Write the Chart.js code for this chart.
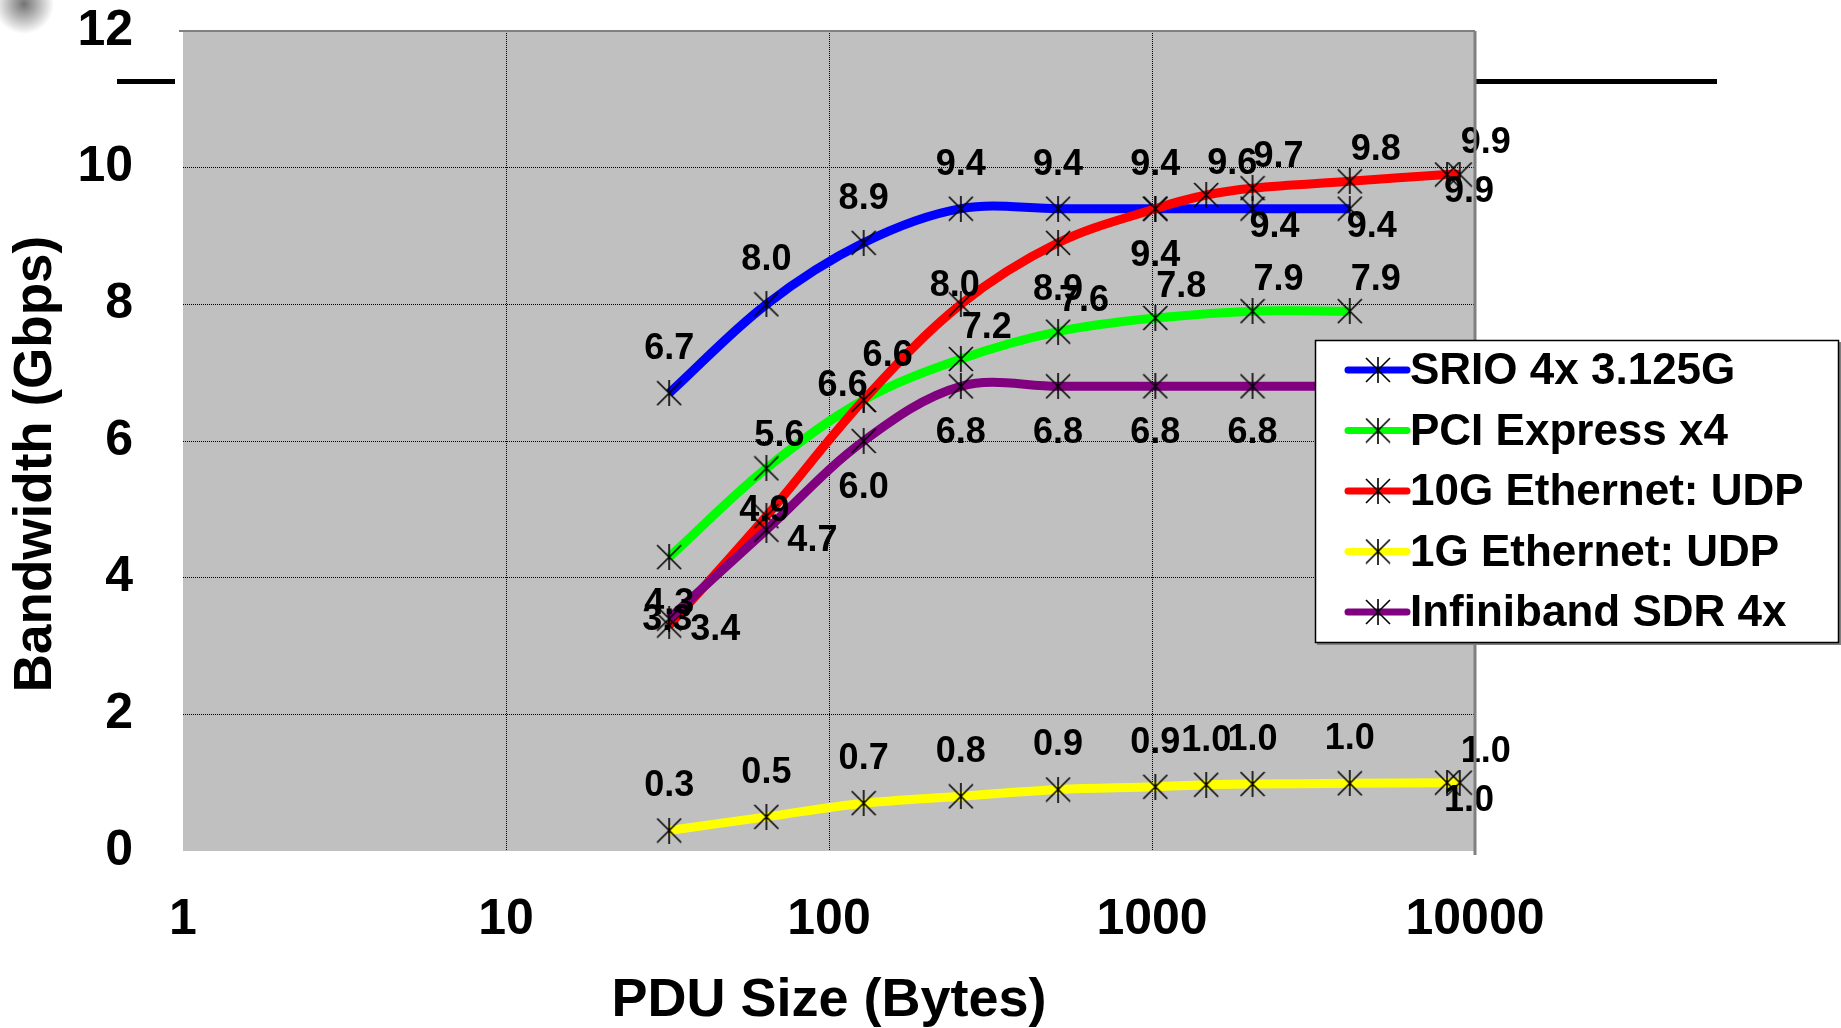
<!DOCTYPE html>
<html>
<head>
<meta charset="utf-8">
<title>Bandwidth vs PDU Size</title>
<script src="https://cdn.jsdelivr.net/npm/chart.js@4.4.0/dist/chart.umd.min.js"></script>
<style>
  html, body { margin: 0; padding: 0; background: #fff; }
  #wrap { width: 1841px; height: 1028px; }
</style>
</head>
<body>
<div id="wrap"><canvas id="canvas" width="1841" height="1028"></canvas></div>
<script>
// PDU sizes (bytes) shared by all series; null = not measured
const pduSizes = [32, 64, 128, 256, 512, 1024, 1472, 2048, 4096, 8192, 8972];
const seriesNames = ["SRIO 4x 3.125G", "PCI Express x4", "10G Ethernet: UDP", "1G Ethernet: UDP", "Infiniband SDR 4x"];
const srio       = [6.7, 8.0, 8.9, 9.4, 9.4, 9.4, null, 9.4, 9.4, null, null];
const pcie       = [4.3, 5.6, 6.6, 7.2, 7.6, 7.8, null, 7.9, 7.9, null, null];
const tenGig     = [3.3, 4.9, 6.6, 8.0, 8.9, 9.4, 9.6, 9.7, 9.8, 9.9, 9.9];
const oneGig     = [0.3, 0.5, 0.7, 0.8, 0.9, 0.94, 0.97, 0.98, 0.99, 1.0, 1.0];
const infiniband = [3.4, 4.7, 6.0, 6.8, 6.8, 6.8, null, 6.8, 6.8, null, null];
const xTicks = [1, 10, 100, 1000, 10000];
const yTicks = [0, 2, 4, 6, 8, 10, 12];

const seriesColors = ["#0000ff", "#00ff00", "#ff0000", "#ffff00", "#800080"];

// where each value label sits relative to its point (Excel placed them by hand)
const labelSpots = [
  ['T', 'T', 'T', 'T', 'T', 'T', null, 'BR', 'BR', null, null],
  ['B', 'Tr', 'TL', 'TR', 'TR', 'TR', null, 'TR', 'TR', null, null],
  ['C', 'C', 'TRh', 'CT', 'B', 'B', 'TR', 'TR', 'TR', 'BR', 'TR'],
  ['T', 'T', 'T', 'T', 'T', 'T', 'T', 'T', 'T', 'BR', 'TR'],
  ['R', 'R', 'B', 'B', 'B', 'B', null, 'B', 'B', null, null]
];
const spotOffset = {
  T: [0, -44], B: [0, 47], TR: [26, -31], TRh: [24, -44], Tr: [13, -32],
  BR: [22, 18], R: [46, 11], C: [-2, -5], CT: [-6, -18], TL: [-21, -14]
};

const FONT = '"Liberation Sans", Arial, sans-serif';
const yTitle = 'Bandwidth (Gbps)';

function makeAsterisk(size) {
  const c = document.createElement('canvas');
  c.width = size; c.height = size;
  const g = c.getContext('2d');
  g.strokeStyle = '#000';
  g.lineWidth = 1.6;
  g.beginPath();
  g.moveTo(1, 1); g.lineTo(size - 1, size - 1);
  g.moveTo(size - 1, 1); g.lineTo(1, size - 1);
  g.moveTo(size / 2, 0); g.lineTo(size / 2, size);
  g.stroke();
  return c;
}
const asterisk = makeAsterisk(26);

const allSeries = [srio, pcie, tenGig, oneGig, infiniband];
const datasets = allSeries.map((vals, i) => ({
  label: seriesNames[i],
  data: pduSizes.map((x, j) => ({ x: x, y: vals[j] })),
  borderColor: seriesColors[i],
  backgroundColor: seriesColors[i],
  borderWidth: 9,
  tension: 0.35,
  spanGaps: true,
  pointStyle: asterisk,
  pointRadius: 13,
  order: allSeries.length - i
}));

const plotBackground = {
  id: 'plotBackground',
  beforeDraw(chart) {
    const ctx = chart.ctx;
    const a = chart.chartArea;
    ctx.save();
    ctx.fillStyle = '#fff';
    ctx.fillRect(0, 0, chart.width, chart.height);
    // soft smudge in the corner of the slide
    const rg = ctx.createRadialGradient(24, 4, 0, 24, 4, 30);
    rg.addColorStop(0, 'rgba(90,90,90,0.85)');
    rg.addColorStop(1, 'rgba(90,90,90,0)');
    ctx.fillStyle = rg;
    ctx.fillRect(0, 0, 60, 40);
    // slide rule line behind the chart
    ctx.strokeStyle = '#000';
    ctx.lineWidth = 5;
    ctx.beginPath();
    ctx.moveTo(117, 81.5); ctx.lineTo(a.left - 8, 81.5);
    ctx.moveTo(a.right, 81.5); ctx.lineTo(1717, 81.5);
    ctx.stroke();
    ctx.fillStyle = '#c0c0c0';
    ctx.fillRect(a.left, a.top, a.right - a.left, a.bottom - a.top);
    ctx.restore();
  },
  afterDraw(chart) {
    const ctx = chart.ctx;
    const a = chart.chartArea;
    ctx.save();
    ctx.strokeStyle = '#808080';
    ctx.lineWidth = 2;
    ctx.beginPath();
    ctx.moveTo(a.left - 4, a.top); ctx.lineTo(a.right, a.top);
    ctx.stroke();
    ctx.lineWidth = 3;
    ctx.beginPath();
    ctx.moveTo(a.right, a.top); ctx.lineTo(a.right, a.bottom + 4);
    ctx.stroke();
    // y axis title, sits a little below the middle of the axis in the original
    ctx.fillStyle = '#000';
    ctx.font = 'bold 53px ' + FONT;
    ctx.textAlign = 'center';
    ctx.textBaseline = 'middle';
    ctx.translate(36, (a.top + a.bottom) / 2 + 23);
    ctx.rotate(-Math.PI / 2);
    ctx.fillText(yTitle, 0, 0);
    ctx.restore();
  }
};

const valueLabels = {
  id: 'valueLabels',
  afterDatasetsDraw(chart) {
    const ctx = chart.ctx;
    ctx.save();
    ctx.font = 'bold 36px ' + FONT;
    ctx.fillStyle = '#000';
    ctx.textAlign = 'center';
    ctx.textBaseline = 'middle';
    chart.data.datasets.forEach((ds, di) => {
      const meta = chart.getDatasetMeta(di);
      meta.data.forEach((pt, i) => {
        const v = ds.data[i].y;
        if (v == null) return;
        const off = spotOffset[labelSpots[di][i]] || [0, -44];
        ctx.fillText(v.toFixed(1), pt.x + off[0], pt.y + off[1]);
      });
    });
    ctx.restore();
  }
};

const boxLegend = {
  id: 'boxLegend',
  afterDraw(chart) {
    const ctx = chart.ctx;
    const bx = 1315, by = 340, bw = 524, bh = 303;
    ctx.save();
    ctx.fillStyle = '#808080';
    ctx.fillRect(bx + 2, by + 2, bw, bh);
    ctx.fillStyle = '#fff';
    ctx.fillRect(bx, by, bw, bh);
    ctx.strokeStyle = '#000';
    ctx.lineWidth = 1.5;
    ctx.strokeRect(bx + 0.5, by + 0.5, bw - 1, bh - 1);
    ctx.font = 'bold 44px ' + FONT;
    ctx.textAlign = 'left';
    ctx.textBaseline = 'middle';
    chart.data.datasets.forEach((ds, i) => {
      const cy = by + 30 + i * 60.5;
      ctx.strokeStyle = ds.borderColor;
      ctx.lineWidth = 7;
      ctx.lineCap = 'round';
      ctx.beginPath();
      ctx.moveTo(bx + 33, cy); ctx.lineTo(bx + 92, cy);
      ctx.stroke();
      ctx.drawImage(asterisk, bx + 63 - 13, cy - 13);
      ctx.fillStyle = '#000';
      ctx.fillText(ds.label, bx + 95, cy + 2);
    });
    ctx.restore();
  }
};

const edgeTick = (edges) => (c) => (c.tick && edges.includes(c.tick.value)) ? 'rgba(0,0,0,0)' : '#000';

new Chart(document.getElementById('canvas'), {
  type: 'line',
  data: { datasets: datasets },
  options: {
    responsive: false,
    animation: false,
    devicePixelRatio: 1,
    layout: { padding: { top: 31, right: 366, left: 0, bottom: 0 } },
    plugins: { legend: { display: false }, tooltip: { enabled: false } },
    scales: {
      x: {
        type: 'logarithmic',
        min: xTicks[0],
        max: xTicks[xTicks.length - 1],
        afterBuildTicks: (s) => { s.ticks = xTicks.map(v => ({ value: v })); },
        afterFit: (s) => { s.height = 177; s.paddingLeft = 0; s.paddingRight = 0; },
        ticks: {
          color: '#000',
          padding: 39,
          maxRotation: 0,
          autoSkip: false,
          font: { family: FONT, size: 50, weight: 'bold' },
          callback: (v) => String(v)
        },
        grid: { color: edgeTick([xTicks[0], xTicks[xTicks.length - 1]]), lineWidth: 1, drawTicks: false },
        border: { display: false, dash: [1, 1] },
        title: {
          display: true,
          text: 'PDU Size (Bytes)',
          color: '#000',
          padding: { top: 0, bottom: -6 },
          font: { family: FONT, size: 54, weight: 'bold' }
        }
      },
      y: {
        min: yTicks[0],
        max: yTicks[yTicks.length - 1],
        afterBuildTicks: (s) => { s.ticks = yTicks.map(v => ({ value: v })); },
        afterFit: (s) => { s.width = 183; s.paddingTop = 0; s.paddingBottom = 0; },
        ticks: {
          color: '#000',
          padding: 50,
          font: { family: FONT, size: 50, weight: 'bold' }
        },
        grid: { color: edgeTick([yTicks[0], yTicks[yTicks.length - 1]]), lineWidth: 1, drawTicks: false },
        border: { display: false, dash: [1, 1] }
      }
    }
  },
  plugins: [plotBackground, valueLabels, boxLegend]
});
</script>
</body>
</html>
